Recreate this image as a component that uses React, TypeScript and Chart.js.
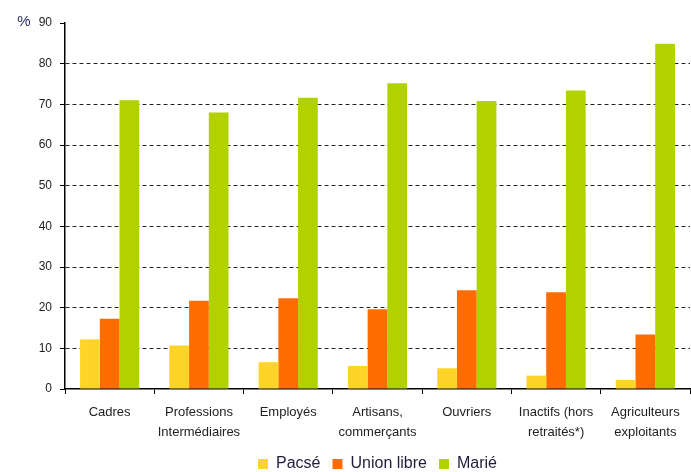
import React, { useEffect, useRef } from "react";
import { Chart, registerables } from "chart.js";

Chart.register(...registerables);

const categories: string[][] = [
  ["Cadres"],
  ["Professions", "Intermédiaires"],
  ["Employés"],
  ["Artisans,", "commerçants"],
  ["Ouvriers"],
  ["Inactifs (hors", "retraités*)"],
  ["Agriculteurs", "exploitants"],
];
const pacse = [12.2, 10.7, 6.6, 5.7, 5.1, 3.3, 2.2];
const unionLibre = [17.3, 21.7, 22.3, 19.6, 24.3, 23.8, 13.4];
const marie = [71.0, 68.0, 71.6, 75.2, 70.8, 73.4, 84.9];
const yMin = 0;
const yMax = 90;
const yStep = 10;
const unitLabel = "%";

const FONT = "'Liberation Sans', Arial, Helvetica, sans-serif";

export default function App() {
  const ref = useRef<HTMLCanvasElement | null>(null);
  useEffect(() => {
    if (!ref.current) return;
    const unitPlugin = {
      id: "unitPlugin",
      afterDraw(chart: any) {
        const { ctx } = chart;
        const y = chart.scales.y;
        ctx.save();
        ctx.font = `15px ${FONT}`;
        ctx.fillStyle = "#1f2a5a";
        ctx.textAlign = "center";
        ctx.textBaseline = "middle";
        ctx.fillText(unitLabel, chart.chartArea.left - 41, y.getPixelForValue(yMax) - 1);
        ctx.restore();
      },
    };
    const legendShift = {
      id: "legendShift",
      afterLayout(chart: any) {
        const lg = chart.legend;
        if (lg) {
          lg.top += 10;
          lg.bottom += 10;
        }
        const x = chart.scales.x;
        if (x) x.bottom = chart.height;
      },
    };
    const chart = new Chart(ref.current, {
      type: "bar",
      data: {
        labels: categories,
        datasets: [
          { label: "Pacsé", data: pacse, backgroundColor: "#FFD428" },
          { label: "Union libre", data: unionLibre, backgroundColor: "#FF6C00" },
          { label: "Marié", data: marie, backgroundColor: "#B2D100" },
        ],
      },
      options: {
        animation: false,
        responsive: false,
        maintainAspectRatio: false,
        layout: { padding: { top: 23, right: 1, left: 0, bottom: 0 } },
        datasets: {
          bar: { categoryPercentage: 0.663, barPercentage: 1 },
        },
        plugins: {
          tooltip: { enabled: false },
          legend: {
            position: "bottom",
            fullSize: false,
            labels: {
              boxWidth: 10,
              boxHeight: 10,
              padding: 12,
              color: "#1e1e3c",
              font: { family: FONT, size: 16 },
            },
          },
        },
        scales: {
          x: {
            offset: true,
            grid: {
              offset: true,
              drawOnChartArea: false,
              drawTicks: true,
              tickLength: 5,
              tickColor: "#000",
              tickWidth: 1,
            },
            border: { display: true, color: "#000", width: 1.5 },
            ticks: {
              color: "#222",
              padding: 8,
              maxRotation: 0,
              autoSkip: false,
              font: { family: FONT, size: 13, lineHeight: 1.54 },
            },
            afterFit(scale: any) {
              scale.height = 45;
            },
          },
          y: {
            min: yMin,
            max: yMax,
            grid: {
              color: (c: any) =>
                c.tick && (c.tick.value === yMax || c.tick.value === yMin) ? "rgba(0,0,0,0)" : "#222",
              lineWidth: 1,
              drawTicks: true,
              tickLength: 5,
              tickColor: "#000",
            },
            border: { display: true, color: "#000", width: 1.5, dash: [4, 3] },
            ticks: {
              stepSize: yStep,
              color: "#222",
              padding: 8,
              font: { family: FONT, size: 12 },
            },
            afterFit(scale: any) {
              scale.width = 65;
            },
          },
        },
      },
      plugins: [unitPlugin, legendShift],
    });
    return () => chart.destroy();
  }, []);
  return (
    <div style={{ position: "fixed", left: 0, top: 0, width: 691, height: 472, background: "#fff" }}>
      <canvas ref={ref} width={691} height={472} style={{ width: 691, height: 472, display: "block" }} />
    </div>
  );
}
